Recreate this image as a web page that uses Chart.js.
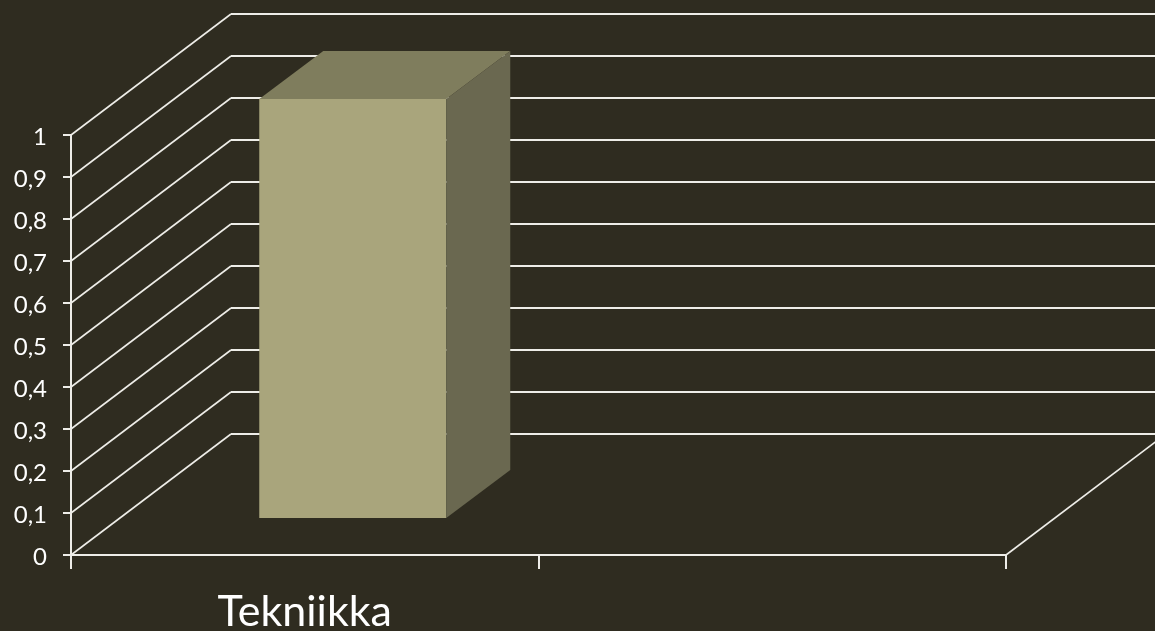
<!DOCTYPE html>
<html><head><meta charset="utf-8">
<style>html,body{margin:0;padding:0;background:#2f2c20;overflow:hidden}canvas{display:block}</style>
<script src="https://cdn.jsdelivr.net/npm/chart.js@4"></script></head>
<body><div style="width:1155px;height:631px"><canvas id="c"></canvas></div>
<script>
const categories = ["Tekniikka", ""];
const values = [1, null];
const yTicks = [0, 0.1, 0.2, 0.3, 0.4, 0.5, 0.6, 0.7, 0.8, 0.9, 1];
const wallDepth = { x: 160, y: -121 };
const barFront = { x: 48, y: -36 };
const barDepth = { x: 64, y: -48 };
const lineColor = "#eeede8";

const threeD = {
  id: "threeD",
  beforeDatasetsDraw(chart) {
    const { ctx, scales: { x, y } } = chart;
    ctx.save();
    ctx.strokeStyle = lineColor;
    yTicks.forEach(v => {
      const py = y.getPixelForValue(v);
      ctx.lineWidth = 1.6;
      ctx.beginPath();
      ctx.moveTo(x.left, py);
      ctx.lineTo(x.left + wallDepth.x, py + wallDepth.y);
      ctx.stroke();
      ctx.lineWidth = 2;
      ctx.beginPath();
      ctx.moveTo(x.left + wallDepth.x, Math.round(py + wallDepth.y));
      ctx.lineTo(x.right + wallDepth.x, Math.round(py + wallDepth.y));
      ctx.stroke();
    });
    ctx.lineWidth = 1.6;
    const by = y.getPixelForValue(0);
    ctx.beginPath();
    ctx.moveTo(x.right, by);
    ctx.lineTo(x.right + wallDepth.x, by + wallDepth.y);
    ctx.stroke();
    ctx.restore();
  },
  beforeDatasetDraw(chart) {
    chart.ctx.save();
    chart.ctx.translate(barFront.x, barFront.y);
  },
  afterDatasetDraw(chart, args) {
    const ctx = chart.ctx;
    ctx.restore();
    args.meta.data.forEach((el, i) => {
      if (values[i] == null) return;
      const p = el.getProps(["x", "y", "base", "width"], true);
      const l = p.x - p.width / 2 + barFront.x, r = p.x + p.width / 2 + barFront.x;
      const t = p.y + barFront.y, b = p.base + barFront.y;
      ctx.fillStyle = "#7f7d5d";
      ctx.beginPath();
      ctx.moveTo(l, t); ctx.lineTo(r, t);
      ctx.lineTo(r + barDepth.x, t + barDepth.y);
      ctx.lineTo(l + barDepth.x, t + barDepth.y);
      ctx.closePath(); ctx.fill();
      ctx.fillStyle = "#6a6850";
      ctx.beginPath();
      ctx.moveTo(r, t); ctx.lineTo(r + barDepth.x, t + barDepth.y);
      ctx.lineTo(r + barDepth.x, b + barDepth.y);
      ctx.lineTo(r, b);
      ctx.closePath(); ctx.fill();
    });
  }
};

new Chart(document.getElementById("c"), {
  type: "bar",
  data: { labels: categories, datasets: [{
    data: values, backgroundColor: "#a9a57c", borderWidth: 0,
    barPercentage: 0.8, categoryPercentage: 0.5, clip: false
  }]},
  options: {
    responsive: true, maintainAspectRatio: false, animation: false,
    layout: { padding: { top: 135, right: 149, left: 0, bottom: 0 } },
    plugins: { legend: { display: false }, tooltip: { enabled: false }, title: { display: false } },
    scales: {
      x: {
        offset: true,
        grid: { display: true, offset: true, drawOnChartArea: false, drawTicks: true, tickLength: 14, color: lineColor, lineWidth: 2 },
        border: { display: true, color: lineColor, width: 2 },
        ticks: { color: "#ffffff", font: { family: "Lato", size: 43 }, padding: 17, maxRotation: 0 },
        afterFit(s) { s.height = 76; }
      },
      y: {
        min: 0, max: 1,
        afterBuildTicks(s) { s.ticks = yTicks.map(v => ({ value: v })); },
        grid: { display: true, drawOnChartArea: false, tickLength: 8, color: lineColor, lineWidth: 2 },
        border: { display: true, color: lineColor, width: 2 },
        ticks: { color: "#ffffff", font: { family: "Lato", size: 24 }, padding: 16, labelOffset: 2,
          callback: v => String(v).replace(".", ",") },
        afterFit(s) { s.width = 71; }
      }
    }
  },
  plugins: [threeD]
});
</script></body></html>
